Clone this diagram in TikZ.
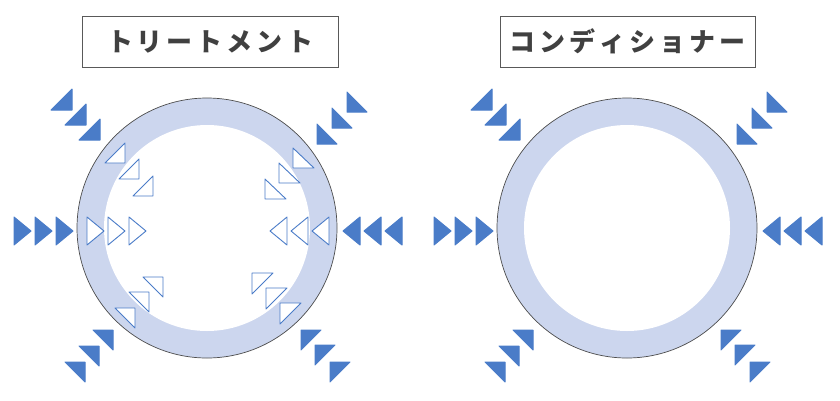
\documentclass[tikz,border=0pt]{standalone}
\usepackage{fontspec}
\newfontfamily\cjk{Noto Sans CJK JP}
\definecolor{tri}{HTML}{4A7CC8}
\definecolor{ringc}{HTML}{CCD6EE}
\definecolor{boxline}{HTML}{595959}
\definecolor{txt}{HTML}{404040}
\newcommand\kk{\kern4pt}
\begin{document}
\begin{tikzpicture}[x=1pt,y=-1pt,
  solidtri/.style={fill=tri, draw=tri, line width=1pt, line join=round},
  hollowtri/.style={fill=white, draw=tri, line width=0.9pt, line join=round},
  titlebox/.style={draw=boxline, line width=0.8pt, minimum width=256pt, minimum height=51pt, inner sep=0pt, text=txt, font=\cjk\bfseries\fontsize{26}{26}\selectfont},
  ringedge/.style={draw=black!70, line width=0.7pt}]
\useasboundingbox (0,0) rectangle (840,400);

% titles
\node[titlebox] (t1) at (210,41.5) {ト\kk{}リ\kk{}ー\kk{}ト\kk{}メ\kk{}ン\kk{}ト};
\node[titlebox, minimum width=255pt] (t2) at (627.5,41.5) {コ\kk{}ン\kk{}デ\kk{}ィ\kk{}シ\kk{}ョ\kk{}ナ\kk{}ー};

% rings
\foreach \cx in {207,627}{
  \fill[ringc] (\cx,228) circle (130);
  \fill[white] (\cx,228) circle (103);
  \draw[ringedge] (\cx,228) circle (130);
}

% outer solid triangles (both rings)
\foreach \s in {0,420}{
\begin{scope}[xshift=\s pt]
  % left, pointing right
  \foreach \x in {14,35,56}
    \draw[solidtri] (\x,217) -- (\x,245) -- (\x+17,231) -- cycle;
  % right, pointing left
  \foreach \x in {402,381,360}
    \draw[solidtri] (\x,217) -- (\x,245) -- (\x-17,231) -- cycle;
  % top-left
  \foreach \a/\b in {72/110,86/125,100/140}
    \draw[solidtri] (\a,\b) -- (\a,\b-21) -- (\a-21,\b) -- cycle;
  % top-right
  \foreach \a/\b in {347/112,332/128,317/144}
    \draw[solidtri] (\a,\b) -- (\a,\b-20) -- (\a+20,\b) -- cycle;
  % bottom-left
  \foreach \a/\b in {113/330,99/346,85/362}
    \draw[solidtri] (\a,\b) -- (\a-20,\b) -- (\a,\b+20) -- cycle;
  % bottom-right
  \foreach \a/\b in {301/330,315/345,330/362}
    \draw[solidtri] (\a,\b) -- (\a+20,\b) -- (\a,\b+20) -- cycle;
\end{scope}
}

% inner hollow triangles (left ring only)
\foreach \x in {87,108,129}
  \draw[hollowtri] (\x,217) -- (\x,245) -- (\x+17,231) -- cycle;
\foreach \x in {329,308,287}
  \draw[hollowtri] (\x,217) -- (\x,245) -- (\x-17,231) -- cycle;
\foreach \a/\b in {125/163,139/179,153/196}
  \draw[hollowtri] (\a,\b) -- (\a,\b-20) -- (\a-20,\b) -- cycle;
\foreach \a/\b in {293/168,279/183,265/199}
  \draw[hollowtri] (\a,\b) -- (\a,\b-20) -- (\a+21,\b) -- cycle;
\foreach \a/\b in {163/277,149/292,135/308}
  \draw[hollowtri] (\a,\b) -- (\a-20,\b) -- (\a,\b+20) -- cycle;
\foreach \a/\b in {252/273,266/288,280/303}
  \draw[hollowtri] (\a,\b) -- (\a+21,\b) -- (\a,\b+21) -- cycle;
\end{tikzpicture}
\end{document}
